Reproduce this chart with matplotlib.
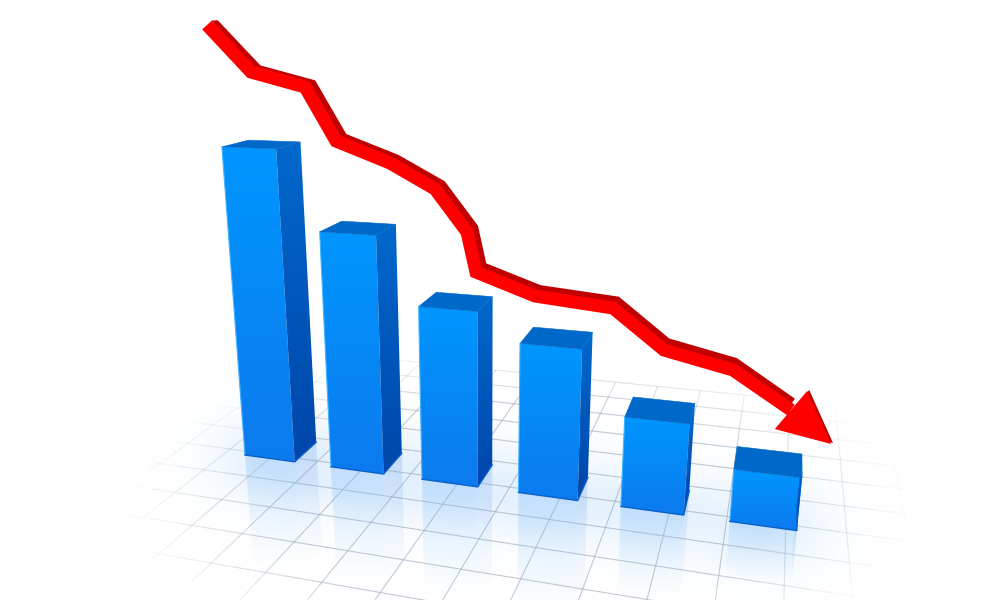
import numpy as np
import matplotlib
matplotlib.use("Agg")
from matplotlib import pyplot as plt
from matplotlib.collections import LineCollection
from matplotlib.patches import Polygon

# bar heights, tallest = 100
bar_values = [100, 76, 55.5, 47, 28, 16]

# red trend line in pixels
line_x = [207, 251, 305, 336, 390, 435, 467, 476, 535, 613, 664, 733, 791, 831]
line_y = [25, 72, 87, 141, 163, 189, 232, 272, 296, 308, 350, 370, 410, 444]

# camera: origin and the three vanishing points
origin = np.array([245.0, 455.0])
vp_row = np.array([-2800.0, 38.0])
vp_depth = np.array([800.0, 0.0])
vp_up = np.array([485.0, 3660.0])
k_row, k_depth, k_up = -0.02747, 0.046, -0.000877

BAR_W = 0.585
BAR_D = 0.95
LINE_LW = 9.4
SIDE_SHIFT = 6.0


def project(x, y, z=0.0):
    w = 1 + k_row * x + k_depth * y + k_up * z
    p = origin + k_row * x * vp_row + k_depth * y * vp_depth + k_up * z * vp_up
    return p / w


def grad_poly(ax, pts, top, bottom, z):
    pts = np.array(pts)
    poly = Polygon(pts, closed=True, fc="none", ec="none", zorder=z)
    ax.add_patch(poly)
    t = np.linspace(0, 1, 128)[:, None, None]
    img = np.array(top)[None, None, :] * (1 - t) + np.array(bottom)[None, None, :] * t
    im = ax.imshow(img, extent=[pts[:, 0].min(), pts[:, 0].max(), pts[:, 1].max(), pts[:, 1].min()],
                   origin="upper", aspect="auto", zorder=z, interpolation="bilinear")
    im.set_clip_path(poly)


def rgb(r, g, b, a=1.0):
    return [r / 255, g / 255, b / 255, a]


fig = plt.figure(figsize=(10, 6), dpi=100)
ax = fig.add_axes([0, 0, 1, 1])
ax.set_axis_off()

# soft blue tint on the floor round the bars
yy, xx = np.mgrid[0:600, 0:1000]
tint = np.zeros((600, 1000, 4))
tint[..., :3] = [0.66, 0.82, 0.98]
glow = np.zeros((600, 1000))
for i in range(len(bar_values)):
    c = project(i + BAR_W / 2, 0.2)
    glow += np.exp(-((xx - c[0]) / 60.0) ** 2 - ((yy - c[1] - 5) / 42.0) ** 2)
tint[..., 3] = np.clip(glow, 0, 1) * 0.32
ax.imshow(tint, extent=[0, 1000, 600, 0], origin="upper", aspect="auto", zorder=1)

# floor grid, fading out towards the edges
grid_x = -0.75 + 0.52 * np.arange(-6, 20)
grid_y = -1.78 + 0.97 * np.arange(-10, 9)
segs, cols = [], []
def add_grid_line(p0, p1):
    for s in np.linspace(0, 1, 60)[:-1]:
        a = p0 + (p1 - p0) * s
        b = p0 + (p1 - p0) * (s + 1 / 59)
        m = (a + b) / 2
        d = np.hypot((m[0] - 520) / 395, (m[1] - 510) / 170)
        alpha = np.clip((1 - d) * 1.5, 0, 0.6)
        segs.append([a, b])
        cols.append(rgb(150, 165, 185, alpha))

for gx in grid_x:
    add_grid_line(project(gx, grid_y[0]), project(gx, grid_y[-1]))
for gy in grid_y:
    add_grid_line(project(grid_x[0], gy), project(grid_x[-1], gy))
ax.add_collection(LineCollection(segs, colors=cols, linewidths=0.8, zorder=2))

# bars with their reflection in the floor
for i, h in enumerate(bar_values):
    x0, x1 = i, i + BAR_W
    fl, fr = project(x0, 0), project(x1, 0)
    br = project(x1, BAR_D)
    tfl, tfr = project(x0, 0, h), project(x1, 0, h)
    tbl, tbr = project(x0, BAR_D, h), project(x1, BAR_D, h)
    rfl, rfr = project(x0, 0, -min(h, 40)), project(x1, 0, -min(h, 40))
    rbr = project(x1, BAR_D, -min(h, 40))

    grad_poly(ax, [fl, fr, rfr, rfl], rgb(110, 180, 250, 0.30), rgb(170, 215, 250, 0.0), 3)
    grad_poly(ax, [fr, br, rbr, rfr], rgb(80, 140, 230, 0.22), rgb(150, 200, 250, 0.0), 3)

    grad_poly(ax, [tfl, tfr, fr, fl], rgb(0, 150, 255), rgb(12, 122, 238), 5)
    grad_poly(ax, [tfr, tbr, br, fr], rgb(2, 104, 204), rgb(0, 70, 170), 5)
    ax.add_patch(Polygon([tfl, tfr, tbr, tbl], closed=True, fc="#0068c8", ec="#0068c8", lw=0.4, zorder=6))
    ax.plot([tfl[0], fl[0]], [tfl[1], fl[1]], color="#3fb4ff", lw=0.8, zorder=6)
    ax.plot([fl[0], fr[0], br[0]], [fl[1], fr[1], br[1]], color="#0a5fc8", lw=1.0, zorder=6)

# trend line: dark side first, bright face on top
line = np.column_stack([line_x, line_y]).astype(float)
to_vp = vp_depth - line
shift = SIDE_SHIFT * to_vp / np.linalg.norm(to_vp, axis=1, keepdims=True)
side = line + shift
ax.plot(side[:-1, 0], side[:-1, 1], color="#c00000", lw=LINE_LW, solid_joinstyle="miter",
        solid_capstyle="butt", zorder=7)
ax.plot(line[:-1, 0], line[:-1, 1], color="#fe0000", lw=LINE_LW, solid_joinstyle="miter",
        solid_capstyle="butt", zorder=8)

# close the notch at the start of the ribbon
first = (line[1] - line[0]) / np.linalg.norm(line[1] - line[0])
corner = line[0] + np.array([first[1], -first[0]]) * LINE_LW / 0.72 / 2
ax.add_patch(Polygon([corner, corner + shift[0], corner + first * SIDE_SHIFT], closed=True,
                     fc="#c00000", ec="none", zorder=7))

# arrow head built from the last stretch of the line
tip, neck = line[-1], line[-2]
u = (tip - neck) / np.linalg.norm(tip - neck)
n = np.array([u[1], -u[0]])
wing_a = neck + n * 25
wing_b = neck - n * 25
head = np.array([tip, wing_a, wing_b])
ax.add_patch(Polygon(head + [2.0, -1.0], closed=True, fc="#c00000", ec="none", zorder=9))
ax.add_patch(Polygon(head, closed=True, fc="#fe0000", ec="none", zorder=10))

ax.set_xlim(0, 1000)
ax.set_ylim(600, 0)
fig.savefig("out.png", dpi=100, facecolor="white")
